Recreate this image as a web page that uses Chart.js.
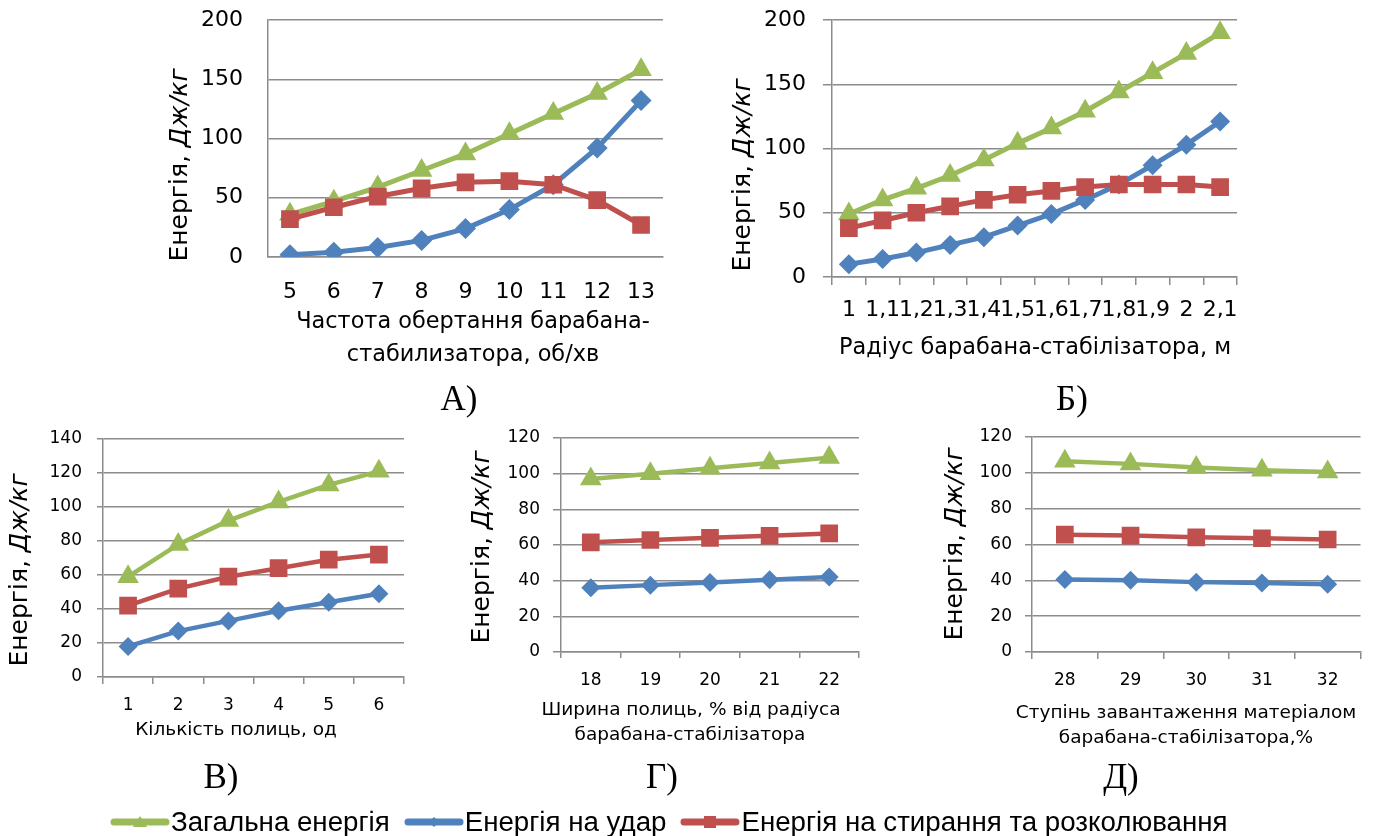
<!DOCTYPE html>
<html>
<head>
<meta charset="utf-8">
<script src="https://cdn.jsdelivr.net/npm/chart.js@4.4.1/dist/chart.umd.min.js"></script>
<style>
  html, body { margin: 0; padding: 0; background: #fff; }
  body { width: 1373px; height: 836px; position: relative; overflow: hidden; }
  canvas { position: absolute; }
  .tag { position: absolute; font-family: "Liberation Serif", serif; font-size: 35px; color: #000; transform: translate(-50%, -50%); white-space: nowrap; }
  .legend { position: absolute; left: 110px; top: 806px; height: 32px; display: flex; align-items: center; font-family: "Liberation Sans", sans-serif; font-size: 27.7px; color: #000; white-space: nowrap; }
  .legend .item { display: flex; align-items: center; margin-right: 14px; }
  .legend svg { margin-right: 1px; }
</style>
</head>
<body>

<canvas id="chartA"></canvas>
<canvas id="chartB"></canvas>
<canvas id="chartV"></canvas>
<canvas id="chartG"></canvas>
<canvas id="chartD"></canvas>

<div class="tag" style="left:459px; top:399px;">А)</div>
<div class="tag" style="left:1072px; top:399px;">Б)</div>
<div class="tag" style="left:221px; top:777px;">В)</div>
<div class="tag" style="left:662px; top:777px;">Г)</div>
<div class="tag" style="left:1121px; top:777px;">Д)</div>

<div class="legend" id="legend"></div>

<script>
/* =========================
   DATA
========================= */
const seriesNames = ["Загальна енергія", "Енергія на удар", "Енергія на стирання та розколювання"];
const yTitle = ["Енергія, ", "Дж/кг"];

// А) частота обертання
const catsA = ["5", "6", "7", "8", "9", "10", "11", "12", "13"];
const totalA = [36, 47, 59, 73, 87, 104, 121, 138, 158];
const impactA = [2, 4, 8, 14, 24, 40, 61, 92, 132];
const abrasionA = [32, 42, 51, 58, 63, 64, 61, 48, 27];
const yTicksA = [0, 50, 100, 150, 200];

// Б) радіус барабана
const catsB = ["1", "1,1", "1,2", "1,3", "1,4", "1,5", "1,6", "1,7", "1,8", "1,9", "2", "2,1"];
const totalB = [49, 60, 69, 79, 91, 104, 116, 129, 144, 159, 174, 190];
const impactB = [10, 14, 19, 25, 31, 40, 49, 60, 72, 87, 103, 121];
const abrasionB = [38, 44, 50, 55, 60, 64, 67, 70, 72, 72, 72, 70];
const yTicksB = [0, 50, 100, 150, 200];

// В) кількість полиць
const catsV = ["1", "2", "3", "4", "5", "6"];
const totalV = [59, 78, 92, 103, 113, 121];
const impactV = [18, 27, 33, 39, 44, 49];
const abrasionV = [42, 52, 59, 64, 69, 72];
const yTicksV = [0, 20, 40, 60, 80, 100, 120, 140];

// Г) ширина полиць
const catsG = ["18", "19", "20", "21", "22"];
const totalG = [97, 100, 103, 106, 109];
const impactG = [36, 37.5, 39, 40.5, 42];
const abrasionG = [61.5, 62.8, 64, 65.2, 66.5];
const yTicksG = [0, 20, 40, 60, 80, 100, 120];

// Д) ступінь завантаження
const catsD = ["28", "29", "30", "31", "32"];
const totalD = [106.5, 105, 103, 101.5, 100.5];
const impactD = [40.5, 40, 39, 38.5, 37.8];
const abrasionD = [65.5, 65, 64, 63.5, 62.8];
const yTicksD = [0, 20, 40, 60, 80, 100, 120];

/* =========================
   STYLE
========================= */
const GREEN = "#9bbb59", BLUE = "#4f81bd", RED = "#c0504d";
const GRID = "#8c8c8c";
const FONT = "'DejaVu Sans', Verdana, sans-serif";

/* =========================
   Axis titles (y title with italic units)
========================= */
const axisTitles = {
  id: "axisTitles",
  afterDraw(chart, args, o) {
    const ctx = chart.ctx;
    ctx.save();
    ctx.fillStyle = "#000";
    ctx.textBaseline = "middle";

    // y title, rotated, "Дж/кг" in italic
    const fN = `${o.ySize}px ${FONT}`, fI = `italic ${o.ySize}px ${FONT}`;
    ctx.font = fN; const w1 = ctx.measureText(yTitle[0]).width;
    ctx.font = fI; const w2 = ctx.measureText(yTitle[1]).width;
    ctx.translate(o.yPos[0], o.yPos[1]);
    ctx.rotate(-Math.PI / 2);
    ctx.textAlign = "left";
    ctx.font = fN; ctx.fillText(yTitle[0], -(w1 + w2) / 2, 0);
    ctx.font = fI; ctx.fillText(yTitle[1], -(w1 + w2) / 2 + w1, 0);
    ctx.setTransform(1, 0, 0, 1, 0, 0);

    // x title lines
    ctx.font = `${o.xSize}px ${FONT}`;
    ctx.textAlign = "center";
    o.xLines.forEach(l => ctx.fillText(l[0], l[1], l[2]));
    ctx.restore();
  }
};

/* =========================
   Chart builder
========================= */
function makeChart(id, p) {
  const cv = document.getElementById(id);
  cv.width = p.box.w; cv.height = p.box.h;
  cv.style.left = p.box.x + "px"; cv.style.top = p.box.y + "px";

  const yW = p.plot.l - p.box.x;
  const xH = p.box.y + p.box.h - p.plot.b;
  const ticks = p.yTicks;

  const ds = (label, data, color, style, r) => ({
    label, data,
    borderColor: color, backgroundColor: color,
    borderWidth: p.lw, pointStyle: style, pointRadius: r,
    pointBorderWidth: 0, pointBackgroundColor: color,
    tension: 0
  });

  return new Chart(cv, {
    type: "line",
    data: {
      labels: p.cats,
      // red on top, then blue, green at the bottom
      datasets: [
        ds(seriesNames[2], p.abrasion, RED, "rect", p.mk[2]),
        ds(seriesNames[1], p.impact, BLUE, "rectRot", p.mk[1]),
        ds(seriesNames[0], p.total, GREEN, "triangle", p.mk[0])
      ]
    },
    options: {
      responsive: false,
      animation: false,
      devicePixelRatio: 1,
      layout: { padding: { left: 0, bottom: 0, top: p.plot.t - p.box.y, right: p.box.x + p.box.w - p.plot.r } },
      plugins: {
        legend: { display: false },
        tooltip: { enabled: false },
        axisTitles: {
          ySize: p.yTitleSize, yPos: [p.yTitlePos[0] - p.box.x, p.yTitlePos[1] - p.box.y],
          xSize: p.xTitleSize,
          xLines: p.xTitle.map(l => [l[0], l[1] - p.box.x, l[2] - p.box.y])
        }
      },
      scales: {
        x: {
          type: "category",
          offset: true,
          afterFit: s => { s.height = xH; s.paddingLeft = 0; s.paddingRight = 0; },
          grid: {
            offset: true, drawOnChartArea: false,
            drawTicks: p.xTickLen > 0, tickLength: p.xTickLen,
            color: GRID, lineWidth: 1.5
          },
          border: { display: true, color: GRID, width: 1.5 },
          ticks: {
            autoSkip: false, maxRotation: 0, minRotation: 0,
            padding: p.xPad, color: "#000",
            font: { family: FONT, size: p.tickSize }
          }
        },
        y: {
          min: ticks[0], max: ticks[ticks.length - 1],
          // fixed axis width; tick padding must not shrink the plot vertically
          afterFit: s => { s.width = yW; s.paddingTop = 0; s.paddingBottom = 0; },
          afterBuildTicks: s => { s.ticks = ticks.map(v => ({ value: v })); },
          grid: {
            drawTicks: p.yTickLen > 0, tickLength: p.yTickLen,
            color: GRID, lineWidth: 1.5
          },
          border: { display: true, color: GRID, width: 1.5 },
          ticks: {
            padding: p.yPad, color: "#000",
            font: { family: FONT, size: p.tickSize }
          }
        }
      }
    },
    plugins: [axisTitles]
  });
}

/* =========================
   PANELS
========================= */
makeChart("chartA", {
  cats: catsA, total: totalA, impact: impactA, abrasion: abrasionA, yTicks: yTicksA,
  box: { x: 150, y: 0, w: 530, h: 380 },
  plot: { l: 268, t: 20, r: 663, b: 257 },
  tickSize: 22, xTickLen: 0, xPad: 22, yTickLen: 0, yPad: 25,
  lw: 5, mk: [12.5, 10.5, 12.5],
  yTitleSize: 25, yTitlePos: [180, 165],
  xTitleSize: 22.4, xTitle: [["Частота обертання барабана-", 473, 322], ["стабилизатора, об/хв", 473, 355]]
});

makeChart("chartB", {
  cats: catsB, total: totalB, impact: impactB, abrasion: abrasionB, yTicks: yTicksB,
  box: { x: 720, y: 0, w: 540, h: 380 },
  plot: { l: 832, t: 20, r: 1237, b: 277 },
  tickSize: 22, xTickLen: 8, xPad: 12, yTickLen: 9, yPad: 17,
  lw: 5, mk: [12.5, 10, 12.5],
  yTitleSize: 25, yTitlePos: [743, 175],
  xTitleSize: 22.4, xTitle: [["Радіус барабана-стабілізатора, м", 1035, 348]]
});

makeChart("chartV", {
  cats: catsV, total: totalV, impact: impactV, abrasion: abrasionV, yTicks: yTicksV,
  box: { x: 0, y: 420, w: 440, h: 340 },
  plot: { l: 103, t: 439, r: 404, b: 677 },
  tickSize: 17, xTickLen: 7, xPad: 11, yTickLen: 6, yPad: 15,
  lw: 4.5, mk: [12.5, 9.5, 12.5],
  yTitleSize: 25, yTitlePos: [20, 570],
  xTitleSize: 18.5, xTitle: [["Кількість полиць, од", 236, 730]]
});

makeChart("chartG", {
  cats: catsG, total: totalG, impact: impactG, abrasion: abrasionG, yTicks: yTicksG,
  box: { x: 460, y: 420, w: 420, h: 340 },
  plot: { l: 561, t: 438, r: 859, b: 652 },
  tickSize: 17, xTickLen: 6, xPad: 12, yTickLen: 8, yPad: 13,
  lw: 4.5, mk: [12.5, 9.5, 12.5],
  yTitleSize: 25, yTitlePos: [482, 547],
  xTitleSize: 18.5, xTitle: [["Ширина полиць, % від радіуса", 691, 710], ["барабана-стабілізатора", 690, 735]]
});

makeChart("chartD", {
  cats: catsD, total: totalD, impact: impactD, abrasion: abrasionD, yTicks: yTicksD,
  box: { x: 900, y: 420, w: 473, h: 340 },
  plot: { l: 1032, t: 437, r: 1363, b: 652 },
  tickSize: 17, xTickLen: 7, xPad: 11, yTickLen: 7, yPad: 13,
  lw: 4.5, mk: [12.5, 9.5, 12.5],
  yTitleSize: 25, yTitlePos: [955, 544],
  xTitleSize: 18.5, xTitle: [["Ступінь завантаження матеріалом", 1186, 713], ["барабана-стабілізатора,%", 1186, 738]]
});

/* =========================
   LEGEND
========================= */
(function legend() {
  const box = document.getElementById("legend");
  const marks = [
    [GREEN, '<polygon points="30,4 37,15 23,15"/>'],
    [BLUE, '<polygon points="30,5 35,10 30,15 25,10"/>'],
    [RED, '<rect x="24" y="4" width="12" height="12"/>']
  ];
  seriesNames.forEach((name, i) => {
    const [c, shape] = marks[i];
    const it = document.createElement("div");
    it.className = "item";
    it.innerHTML =
      `<svg width="60" height="20" viewBox="0 0 60 20"><line x1="4" y1="10" x2="56" y2="10" stroke="${c}" stroke-width="7" stroke-linecap="round"/><g fill="${c}">${shape}</g></svg>` +
      `<span>${name}</span>`;
    box.appendChild(it);
  });
})();
</script>
</body>
</html>
